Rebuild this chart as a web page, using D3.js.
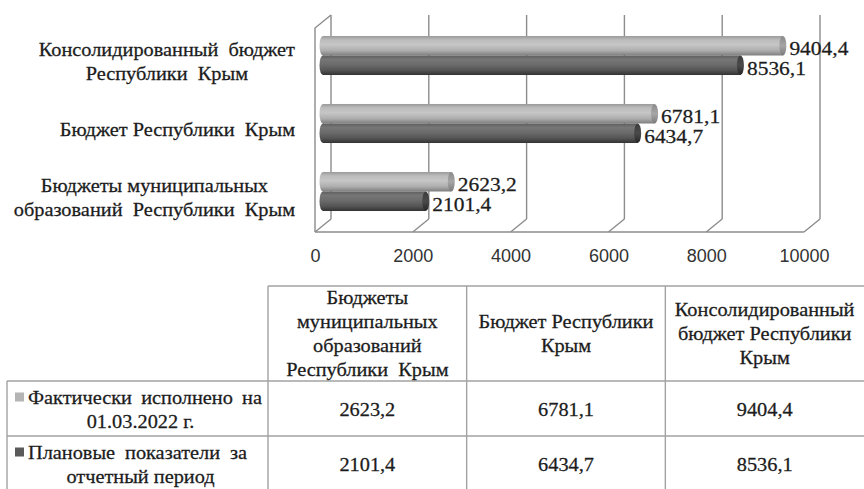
<!DOCTYPE html>
<html>
<head>
<meta charset="utf-8">
<script src="https://cdn.jsdelivr.net/npm/d3@7"></script>
<style>
  body { margin: 0; background: #fff; }
  text { white-space: pre; }
</style>
</head>
<body>
<div id="chart"></div>
<script>
// data (table order; the chart draws it bottom-up)
const categories = ["mun", "rep", "cons"];
const chartLabels = [
  ["Бюджеты муниципальных", "образований  Республики  Крым"],
  ["Бюджет Республики  Крым"],
  ["Консолидированный  бюджет", "Республики  Крым"],
];
const headerLabels = [
  ["Бюджеты", "муниципальных", "образований", "Республики  Крым"],
  ["Бюджет Республики", "Крым"],
  ["Консолидированный", "бюджет Республики", "Крым"],
];
const seriesKeys = ["fact", "plan"];
const seriesLegend = [
  ["Фактически исполнено на", "01.03.2022 г."],
  ["Плановые показатели за", "отчетный период"],
];
const factValues = [2623.2, 6781.1, 9404.4];
const planValues = [2101.4, 6434.7, 8536.1];
const xTicks = [0, 2000, 4000, 6000, 8000, 10000];

const values = { fact: factValues, plan: planValues };
const fmt = (v) => v.toFixed(1).replace(".", ",");

const W = 864, H = 489;
const SX = 1.13; // the scan is stretched sideways
const serif = '"Liberation Serif", serif';
const sans = '"Liberation Sans", sans-serif';
const ink = "#1c1c1c";

const svg = d3.select("#chart").append("svg")
  .attr("width", W).attr("height", H)
  .style("background", "#fff");

// helper: serif text, stretched horizontally
function stext(g, x, y, str, size, anchor) {
  return g.append("text")
    .attr("transform", `translate(${x},${y}) scale(${SX},1)`)
    .attr("text-anchor", anchor || "start")
    .attr("dy", "0.35em")
    .style("font-family", serif)
    .style("font-size", size + "px")
    .attr("fill", ink)
    .attr("stroke", ink)
    .attr("stroke-width", 0.25)
    .text(str);
}

// ---------- 3D bar chart ----------
const back = { x0: 331, top: 15, bottom: 219 };
const depth = { dx: -16, dy: 13 };
const x = d3.scaleLinear().domain([0, 10000]).range([0, 489]);
const backX = (v) => back.x0 + x(v);
const frontX = (v) => back.x0 + depth.dx + x(v);
const midX = (v) => back.x0 + depth.dx / 2 + x(v);

const y = d3.scaleBand()
  .domain(categories.slice().reverse())
  .range([back.top + depth.dy / 2, back.bottom + depth.dy / 2])
  .paddingInner(0.426)
  .paddingOuter(0.213);
const inner = d3.scaleBand().domain(seriesKeys).range([0, y.bandwidth()]);

const defs = svg.append("defs");
function grad(id, stops) {
  const g = defs.append("linearGradient").attr("id", id)
    .attr("x1", 0).attr("y1", 0).attr("x2", 0).attr("y2", 1);
  stops.forEach(([o, c]) => g.append("stop").attr("offset", o).attr("stop-color", c));
}
grad("g-fact", [[0, "#9a9a9a"], [0.2, "#bcbcbc"], [0.45, "#c6c6c6"], [0.75, "#adadad"], [1, "#7e7e7e"]]);
grad("g-plan", [[0, "#5e5e5e"], [0.2, "#767676"], [0.45, "#6c6c6c"], [0.75, "#555"], [1, "#333"]]);
grad("c-fact", [[0, "#8a8a8a"], [0.5, "#a6a6a6"], [1, "#7a7a7a"]]);
grad("c-plan", [[0, "#3c3c3c"], [0.5, "#4a4a4a"], [1, "#262626"]]);

const frame = svg.append("g")
  .attr("stroke", "#8c8c8c").attr("stroke-width", 1.4).attr("fill", "none");
xTicks.forEach((t) => {
  frame.append("line")
    .attr("x1", backX(t)).attr("y1", back.top)
    .attr("x2", backX(t)).attr("y2", back.bottom);
  frame.append("line")
    .attr("x1", backX(t)).attr("y1", back.bottom)
    .attr("x2", frontX(t)).attr("y2", back.bottom + depth.dy);
});
frame.append("line")
  .attr("x1", frontX(0)).attr("y1", back.bottom + depth.dy)
  .attr("x2", frontX(10000)).attr("y2", back.bottom + depth.dy);
frame.append("polyline")
  .attr("points", [
    [frontX(0), back.bottom + depth.dy],
    [frontX(0), back.top + depth.dy],
    [backX(0), back.top],
  ].join(" "));

const rx = 3.5;
const bars = svg.append("g");
categories.forEach((c, i) => {
  seriesKeys.forEach((s) => {
    const v = values[s][i];
    const yb = y(c) + inner(s);
    const h = inner.bandwidth();
    const g = bars.append("g");
    g.append("ellipse")
      .attr("cx", midX(0)).attr("cy", yb + h / 2)
      .attr("rx", rx).attr("ry", h / 2)
      .attr("fill", `url(#g-${s})`);
    g.append("rect")
      .attr("x", midX(0)).attr("y", yb)
      .attr("width", midX(v) - midX(0)).attr("height", h)
      .attr("fill", `url(#g-${s})`);
    g.append("ellipse")
      .attr("cx", midX(v)).attr("cy", yb + h / 2)
      .attr("rx", rx).attr("ry", h / 2)
      .attr("fill", `url(#c-${s})`);
    stext(bars, midX(v) + rx + 3, yb + h / 2 + 3, fmt(v), 19);
  });
});

// category labels, block right-aligned, lines centred on each other
const catG = svg.append("g");
categories.forEach((c, i) => {
  const lines = chartLabels[i];
  const cy = y(c) + y.bandwidth() / 2 + depth.dy / 2;
  const els = lines.map((l, k) =>
    stext(catG, 0, cy + (k - (lines.length - 1) / 2) * 24, l, 18, "middle"));
  const maxW = d3.max(els, (e) => e.node().getComputedTextLength()) * SX;
  const cx = 295 - maxW / 2;
  els.forEach((e, k) =>
    e.attr("transform", `translate(${cx},${cy + (k - (lines.length - 1) / 2) * 24}) scale(${SX},1)`));
});

// value axis on the front edge
const axis = svg.append("g")
  .attr("transform", `translate(${back.x0 + depth.dx},${back.bottom + depth.dy + 14})`)
  .call(d3.axisBottom(x).tickValues(xTicks).tickFormat(d3.format("d")).tickSize(0).tickPadding(3));
axis.select(".domain").remove();
axis.selectAll("text")
  .style("font-family", sans).style("font-size", "18px").attr("fill", "#333");

// ---------- data table ----------
const tbl = { left: 7, labelRight: 268, right: 864, top: 286, headBottom: 381, rowH: 55 };
const colX = d3.scaleBand().domain(categories).range([tbl.labelRight, 864]);
const tg = svg.append("g");
const gridG = tg.append("g").attr("stroke", "#a2a2a2").attr("stroke-width", 1.4);
gridG.append("line").attr("x1", tbl.labelRight).attr("x2", tbl.right)
  .attr("y1", tbl.top).attr("y2", tbl.top);
[0, 1].forEach((r) => {
  const yy = tbl.headBottom + r * tbl.rowH;
  gridG.append("line").attr("x1", tbl.left).attr("x2", tbl.right).attr("y1", yy).attr("y2", yy);
});
gridG.append("line").attr("x1", tbl.left).attr("x2", tbl.left)
  .attr("y1", tbl.headBottom).attr("y2", H);
categories.forEach((c) => {
  gridG.append("line").attr("x1", colX(c)).attr("x2", colX(c))
    .attr("y1", tbl.top).attr("y2", H);
});

// header
const headCy = (tbl.top + tbl.headBottom) / 2;
categories.forEach((c, i) => {
  const lines = headerLabels[i];
  lines.forEach((l, k) =>
    stext(tg, colX(c) + colX.bandwidth() / 2, headCy + (k - (lines.length - 1) / 2) * 24, l, 18, "middle"));
});

// rows
const swatch = { fact: "#b4b4b4", plan: "#5a5a5a" };
const justifyTo = [262, 247];
seriesKeys.forEach((s, r) => {
  const top = tbl.headBottom + r * tbl.rowH;
  const cy = top + tbl.rowH / 2 + 1;
  tg.append("rect")
    .attr("x", 15).attr("y", cy - 17).attr("width", 9).attr("height", 9)
    .attr("fill", swatch[s]);
  const first = stext(tg, 28, cy - 12, seriesLegend[r][0], 18);
  const natural = first.node().getComputedTextLength();
  const gaps = seriesLegend[r][0].split(" ").length - 1;
  const extra = ((justifyTo[r] - 28) / SX - natural) / gaps;
  first.style("word-spacing", Math.max(0, extra) + "px");
  stext(tg, (tbl.left + tbl.labelRight) / 2 + 3, cy + 12, seriesLegend[r][1], 18, "middle");
  categories.forEach((c, i) => {
    stext(tg, colX(c) + colX.bandwidth() / 2, cy, fmt(values[s][i]), 18, "middle");
  });
});
</script>
</body>
</html>
